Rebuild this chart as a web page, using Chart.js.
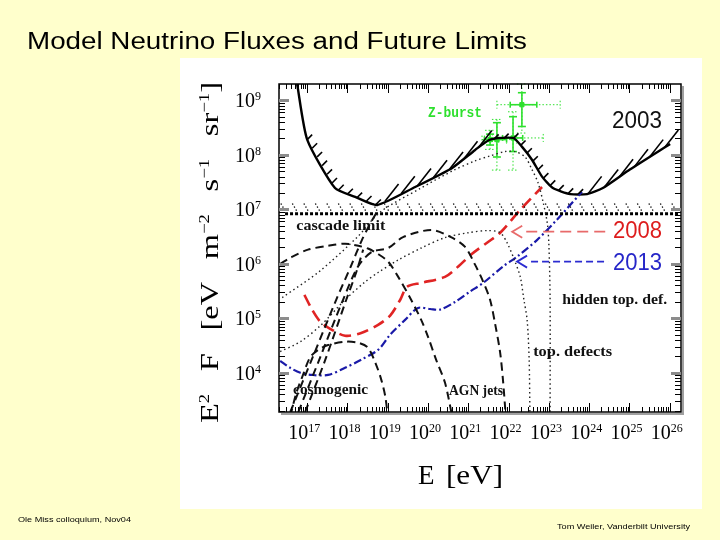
<!DOCTYPE html>
<html>
<head>
<meta charset="utf-8">
<script src="https://cdn.jsdelivr.net/npm/chart.js@4.4.0/dist/chart.umd.min.js"></script>
<style>
  html, body { margin: 0; padding: 0; background: #FFFFCC; }
  #wrap { position: relative; width: 720px; height: 540px; }
</style>
</head>
<body>
<div id="wrap"><canvas id="c" width="720" height="540"></canvas></div>
<script>
// all values are log10: x = log10(E / eV), y = log10(E^2 F / eV m^-2 s^-1 sr^-1)
const xTickPowers = [17, 18, 19, 20, 21, 22, 23, 24, 25, 26];
const yTickPowers = [4, 5, 6, 7, 8, 9];

const limit2003E = [16.75, 17.00, 17.69, 18.19, 18.74, 19.68, 20.60, 21.17, 21.54, 22.11, 22.33, 22.58, 22.83, 23.10, 23.53, 23.95, 24.34, 25.01, 26.01];
const limit2003F = [9.30, 8.28, 7.39, 7.23, 7.08, 7.41, 7.76, 8.09, 8.28, 8.31, 8.15, 7.91, 7.60, 7.39, 7.28, 7.28, 7.39, 7.73, 8.20];

const cascadeE = [16.45, 26.25];
const cascadeF = [6.92, 6.92];

const limit2008E = [16.93, 17.12, 17.32, 17.52, 17.94, 18.34, 18.76, 19.06, 19.31, 19.48, 19.83, 20.42, 20.75, 21.07, 21.49, 21.79, 22.29, 22.83];
const limit2008F = [5.43, 5.16, 4.94, 4.83, 4.68, 4.73, 4.88, 5.05, 5.34, 5.58, 5.65, 5.76, 5.95, 6.17, 6.40, 6.57, 6.99, 7.41];

const limit2013E = [16.33, 16.58, 16.83, 17.12, 17.52, 17.94, 18.34, 18.76, 19.06, 19.43, 19.75, 20.05, 20.30, 20.67, 21.04, 21.37, 21.86, 22.21, 22.71, 23.20, 23.82];
const limit2013F = [4.22, 4.09, 4.00, 3.96, 3.96, 4.09, 4.24, 4.42, 4.70, 4.97, 5.19, 5.17, 5.16, 5.30, 5.49, 5.65, 5.95, 6.13, 6.44, 6.81, 7.32];

// dashed model curves (AGN jets, cosmogenic)
const agnE = [16.33, 16.58, 17.02, 17.52, 17.94, 18.27, 18.51, 18.76, 19.01, 19.26, 19.58, 19.83, 20.00, 20.20, 20.42, 20.60];
const agnF = [6.00, 6.11, 6.26, 6.33, 6.37, 6.33, 6.28, 6.18, 6.04, 5.76, 5.34, 4.97, 4.66, 4.24, 3.82, 3.20];
const cosmoAE = [16.58, 17.15, 17.72, 18.07, 18.36, 18.59, 18.76];
const cosmoAF = [3.28, 4.31, 5.34, 5.93, 6.44, 6.77, 6.99];
const cosmoBE = [16.78, 17.32, 17.89, 18.27, 18.61, 19.01, 19.38, 20.08, 20.57, 20.92, 21.17, 21.37, 21.54, 21.67, 21.79, 21.86, 21.93];
const cosmoBF = [3.28, 4.28, 5.34, 5.96, 6.22, 6.29, 6.49, 6.62, 6.49, 6.31, 5.98, 5.67, 5.34, 4.88, 4.37, 3.87, 3.20];
const cosmoCE = [16.95, 17.45, 17.97, 18.22, 18.39];
const cosmoCF = [3.28, 4.24, 5.34, 5.85, 6.26];
const cosmoDE = [16.58, 16.73, 16.88, 17.07, 17.27, 17.52, 17.94, 18.27, 18.51, 18.71, 18.84, 18.94, 19.00];
const cosmoDF = [3.20, 3.63, 3.93, 4.28, 4.42, 4.51, 4.57, 4.55, 4.46, 4.15, 3.87, 3.56, 3.20];

// dotted model curves (topological defects, Z-burst)
const topDefE = [16.33, 16.83, 17.35, 17.94, 18.44, 18.76, 19.26, 19.83, 20.42, 21.00, 21.49, 21.79, 21.96, 22.16, 22.29, 22.38, 22.46, 22.51, 22.53];
const topDefF = [4.39, 4.57, 4.88, 5.34, 5.67, 5.84, 6.07, 6.29, 6.48, 6.57, 6.61, 6.57, 6.39, 6.04, 5.76, 5.34, 4.97, 4.24, 3.20];
const zModelE = [16.38, 17.32, 18.27, 18.81, 19.80, 20.62, 21.17, 21.54, 21.91, 22.16, 22.41, 22.58, 22.73, 22.86, 22.96, 23.00, 23.03, 23.03];
const zModelF = [5.38, 5.87, 6.51, 6.95, 7.38, 7.71, 7.89, 7.98, 8.06, 8.06, 7.96, 7.73, 7.49, 7.12, 6.75, 6.35, 5.34, 3.20];

// Z-burst points with solid and dotted error bars
const zbE = [22.33, 21.54, 21.71, 22.11];
const zbF = [8.92, 8.28, 8.28, 8.31];
const zbELo = [22.04, 21.40, 21.54, 21.85];
const zbEHi = [22.70, 21.75, 21.95, 22.35];
const zbFLo = [8.52, 8.18, 7.96, 8.06];
const zbFHi = [9.14, 8.38, 8.59, 8.70];
const zbELoWide = [21.71, 21.34, 21.40, 21.60];
const zbEHiWide = [23.28, 21.95, 22.20, 22.86];
const zbFLoWide = [8.40, 8.10, 7.72, 7.72];
const zbFHiWide = [9.30, 8.45, 8.65, 8.79];

const xy = (xs, ys) => xs.map((x, i) => ({ x, y: ys[i] }));

function curve(label, xs, ys, color, width, dash, extra) {
  return Object.assign({
    label, data: xy(xs, ys), showLine: true, fill: false,
    borderColor: color, backgroundColor: color, borderWidth: width,
    borderDash: dash, pointRadius: 0, tension: 0.3
  }, extra || {});
}

function fitText(ctx, txt, x, y, font, color, w) {
  ctx.save();
  ctx.font = font;
  ctx.fillStyle = color;
  ctx.textBaseline = 'alphabetic';
  ctx.textAlign = 'left';
  const m = ctx.measureText(txt).width;
  ctx.translate(x, y);
  ctx.scale(w ? w / m : 1, 1);
  ctx.fillText(txt, 0, 0);
  ctx.restore();
}

function powLabel(ctx, n, x, y) {
  ctx.save();
  ctx.fillStyle = '#000';
  ctx.textBaseline = 'alphabetic';
  ctx.font = '20px "Liberation Serif"';
  ctx.fillText('10', x, y);
  const w = ctx.measureText('10').width;
  ctx.font = '12px "Liberation Serif"';
  ctx.fillText(String(n), x + w, y - 7);
  ctx.restore();
}

const slidePlugin = {
  id: 'slide',
  beforeDraw(chart) {
    const ctx = chart.ctx;
    ctx.save();
    ctx.fillStyle = '#FFFFCC';
    ctx.fillRect(0, 0, 720, 540);
    ctx.fillStyle = '#FFFFFF';
    ctx.fillRect(180, 58, 522, 451);
    ctx.restore();
  },
  afterDraw(chart) {
    const ctx = chart.ctx, x = chart.scales.x, y = chart.scales.y;
    fitText(ctx, 'Model Neutrino Fluxes and Future Limits', 27, 49, '23px "Liberation Sans"', '#000', 500);
    fitText(ctx, 'Ole Miss colloquium, Nov04', 18, 522, '8px "Liberation Sans"', '#000', 113);
    fitText(ctx, 'Tom Weiler, Vanderbilt University', 557, 529, '8px "Liberation Sans"', '#000', 133);

    // tick labels
    xTickPowers.forEach(n => powLabel(ctx, n, x.getPixelForValue(n) - 19, 439));
    yTickPowers.forEach(n => powLabel(ctx, n, 235, y.getPixelForValue(n) + 7));

    // x title
    fitText(ctx, 'E', 418, 484, '27px "Liberation Serif"', '#000');
    fitText(ctx, '[eV]', 446, 484, '27px "Liberation Serif"', '#000', 57);

    // y title, rotated
    const parts = [['E'], ['2', 1], null, ['F'], null, ['[eV'], null, ['m'], ['\u22122', 1], null,
                   ['s'], ['\u22121', 1], null, ['sr'], ['\u22121', 1], [']']];
    ctx.save();
    ctx.translate(218, 423);
    ctx.rotate(-Math.PI / 2);
    ctx.fillStyle = '#000';
    const base = '26px "Liberation Serif"', sup = '15px "Liberation Serif"';
    let nat = 0, gaps = 0;
    parts.forEach(p => {
      if (!p) { gaps++; return; }
      ctx.font = p[1] ? sup : base;
      nat += ctx.measureText(p[0]).width * 1.25;
    });
    const gap = (341 - nat) / gaps;
    let pos = 0;
    parts.forEach(p => {
      if (!p) { pos += gap; return; }
      ctx.font = p[1] ? sup : base;
      ctx.save();
      ctx.translate(pos, p[1] ? -9 : 0);
      ctx.scale(1.25, 1);
      ctx.fillText(p[0], 0, 0);
      ctx.restore();
      pos += ctx.measureText(p[0]).width * 1.25;
    });
    ctx.restore();
  }
};

const hatchPlugin = {
  id: 'hatch',
  afterDatasetsDraw(chart) {
    const ctx = chart.ctx, a = chart.chartArea;
    chart.data.datasets.forEach((ds, di) => {
      const h = ds.hatch;
      if (!h) return;
      const pts = chart.getDatasetMeta(di).data;
      ctx.save();
      ctx.beginPath();
      ctx.rect(a.left, a.top, a.right - a.left, a.bottom - a.top);
      ctx.clip();
      ctx.strokeStyle = ds.borderColor;
      ctx.lineWidth = h.width;
      ctx.setLineDash(h.dash || []);
      let carry = 0;
      for (let i = 1; i < pts.length; i++) {
        if (ds.data[i - 1].x < h.from) continue;
        const p0 = pts[i - 1], p1 = pts[i];
        const dx = p1.x - p0.x, dy = p1.y - p0.y, len = Math.hypot(dx, dy);
        const st = (h.rise && dy < -0.2 * Math.abs(dx)) ? h.rise : h.fall;
        const ang = st.angle * Math.PI / 180;
        let t = carry;
        while (t < len) {
          const bx = p0.x + dx * t / len, by = p0.y + dy * t / len - (st.lift || 0);
          ctx.beginPath();
          ctx.moveTo(bx, by);
          ctx.lineTo(bx + Math.cos(ang) * st.len, by - Math.sin(ang) * st.len);
          ctx.stroke();
          t += st.gap;
        }
        carry = t - len;
      }
      ctx.restore();
    });
  }
};

const errorBarPlugin = {
  id: 'errbars',
  beforeDatasetsDraw(chart) {
    const ctx = chart.ctx, x = chart.scales.x, y = chart.scales.y;
    ctx.save();
    ctx.strokeStyle = '#2ee02e';
    const seg = (x0, y0, x1, y1) => { ctx.beginPath(); ctx.moveTo(x0, y0); ctx.lineTo(x1, y1); ctx.stroke(); };
    zbE.forEach((e, i) => {
      const X = x.getPixelForValue(e), Y = y.getPixelForValue(zbF[i]);
      // dotted outer bars
      ctx.lineWidth = 1; ctx.setLineDash([1.5, 2]);
      const xl = x.getPixelForValue(zbELoWide[i]), xr = x.getPixelForValue(zbEHiWide[i]);
      const yt = y.getPixelForValue(zbFHiWide[i]), yb = y.getPixelForValue(zbFLoWide[i]);
      seg(xl, Y, xr, Y); seg(X, yt, X, yb);
      seg(xl, Y - 4, xl, Y + 4); seg(xr, Y - 4, xr, Y + 4);
      seg(X - 5, yt, X + 5, yt); seg(X - 5, yb, X + 5, yb);
      // solid inner bars
      ctx.lineWidth = 1.6; ctx.setLineDash([]);
      const sl = x.getPixelForValue(zbELo[i]), sr = x.getPixelForValue(zbEHi[i]);
      const st = y.getPixelForValue(zbFHi[i]), sb = y.getPixelForValue(zbFLo[i]);
      seg(sl, Y, sr, Y); seg(X, st, X, sb);
      seg(sl, Y - 3, sl, Y + 3); seg(sr, Y - 3, sr, Y + 3);
      seg(X - 4, st, X + 4, st); seg(X - 4, sb, X + 4, sb);
    });
    ctx.restore();
  }
};

const framePlugin = {
  id: 'frame',
  afterDatasetsDraw(chart) {
    const ctx = chart.ctx, a = chart.chartArea, x = chart.scales.x, y = chart.scales.y;
    ctx.save();
    // annotations: arrows and labels
    const arrow = (e, f, e2, color, dash) => {
      const X = x.getPixelForValue(e), Y = y.getPixelForValue(f), X2 = x.getPixelForValue(e2);
      ctx.strokeStyle = color; ctx.lineWidth = 1.8;
      ctx.setLineDash([]);
      ctx.beginPath(); ctx.moveTo(X + 10, Y - 6); ctx.lineTo(X, Y); ctx.lineTo(X + 10, Y + 6); ctx.stroke();
      ctx.setLineDash(dash);
      ctx.beginPath(); ctx.moveTo(X + 14, Y); ctx.lineTo(X2, Y); ctx.stroke();
      ctx.setLineDash([]);
    };
    arrow(22.09, 6.59, 24.44, '#e86a6a', [11, 6]);
    arrow(22.21, 6.04, 24.47, '#2b2bd0', [7, 4]);
    const lab = (t, e, f, font, color, w) => fitText(ctx, t, x.getPixelForValue(e), y.getPixelForValue(f), font, color, w);
    lab('2003', 24.57, 8.50, '23px "Liberation Sans"', '#111', 50);
    lab('2008', 24.59, 6.48, '23px "Liberation Sans"', '#dd1c1c', 49);
    lab('2013', 24.59, 5.89, '23px "Liberation Sans"', '#2626c8', 49);
    lab('Z-burst', 20.00, 8.70, 'bold 14px "Liberation Mono"', '#2ee02e', 54);
    const lf = 'bold 15px "Liberation Serif"';
    lab('cascade limit', 16.73, 6.62, lf, '#111', 89);
    lab('hidden top. def.', 23.33, 5.27, lf, '#111', 105);
    lab('top. defects', 22.61, 4.31, lf, '#111', 79);
    lab('cosmogenic', 16.65, 3.61, lf, '#111', 75);
    lab('AGN jets', 20.52, 3.60, lf, '#111', 54);

    // frame with a soft grey shadow
    ctx.strokeStyle = '#a0a0a0'; ctx.lineWidth = 2;
    ctx.beginPath(); ctx.moveTo(a.right + 2, a.top + 2); ctx.lineTo(a.right + 2, a.bottom + 2); ctx.lineTo(a.left + 2, a.bottom + 2); ctx.stroke();
    ctx.strokeStyle = '#000'; ctx.lineWidth = 1.5;
    ctx.strokeRect(a.left, a.top, a.right - a.left, a.bottom - a.top);

    const seg = (x0, y0, x1, y1) => { ctx.beginPath(); ctx.moveTo(x0, y0); ctx.lineTo(x1, y1); ctx.stroke(); };
    for (let n = 16; n <= 26; n++) {
      for (let k = 1; k <= 9; k++) {
        const v = n + Math.log10(k);
        if (v <= x.min || v >= x.max) continue;
        const X = Math.round(x.getPixelForValue(v)) + 0.5;
        const L = k === 1 ? 9 : 5;
        ctx.strokeStyle = '#000'; ctx.lineWidth = 1;
        seg(X, a.bottom, X, a.bottom - L);
        seg(X, a.top, X, a.top + L);
      }
    }
    for (let n = 3; n <= 9; n++) {
      for (let k = 1; k <= 9; k++) {
        const v = n + Math.log10(k);
        if (v <= y.min || v >= y.max) continue;
        const Y = Math.round(y.getPixelForValue(v)) + 0.5;
        if (k === 1) {
          ctx.strokeStyle = '#8c8c8c'; ctx.lineWidth = 3;
          seg(a.left, Y, a.left + 10, Y);
          seg(a.right, Y, a.right - 10, Y);
        } else {
          ctx.strokeStyle = '#000'; ctx.lineWidth = 1;
          seg(a.left, Y, a.left + 6, Y);
          seg(a.right, Y, a.right - 6, Y);
        }
      }
    }
    ctx.restore();
  }
};

const datasets = [
  curve('AGN jets', agnE, agnF, '#111', 2, [8, 5]),
  curve('cosmogenic a', cosmoAE, cosmoAF, '#111', 2, [8, 5]),
  curve('cosmogenic b', cosmoBE, cosmoBF, '#111', 2, [8, 5]),
  curve('cosmogenic c', cosmoCE, cosmoCF, '#111', 2, [8, 5]),
  curve('cosmogenic d', cosmoDE, cosmoDF, '#111', 2, [8, 5]),
  curve('top. defects', topDefE, topDefF, '#222', 1.4, [1.5, 3]),
  curve('Z-burst model', zModelE, zModelF, '#222', 1.4, [1.5, 3]),
  curve('cascade limit', cascadeE, cascadeF, '#000', 3, [3, 2], {
    tension: 0,
    hatch: { from: -Infinity, width: 1.3, dash: [1.3, 2.2], fall: { angle: 120, len: 9, gap: 11.5, lift: 3 } }
  }),
  curve('2013', limit2013E, limit2013F, '#1a1aa8', 2.2, [8, 3, 2, 3]),
  curve('2008', limit2008E, limit2008F, '#e02424', 2.6, [12, 6]),
  curve('2003', limit2003E, limit2003F, '#000', 2.4, [], {
    tension: 0.2,
    hatch: { from: 16.9, width: 1.6, fall: { angle: 45, len: 7, gap: 10 }, rise: { angle: 52, len: 22, gap: 18 } }
  }),
  {
    label: 'Z-burst data', data: xy(zbE, zbF), showLine: false,
    pointStyle: 'rect', pointRadius: 3, backgroundColor: '#2ee02e', borderColor: '#2ee02e'
  }
];

new Chart(document.getElementById('c'), {
  type: 'scatter',
  data: { datasets },
  options: {
    responsive: false,
    animation: false,
    devicePixelRatio: 1,
    layout: { padding: { left: 279, top: 84, right: 39, bottom: 128 } },
    plugins: { legend: { display: false }, tooltip: { enabled: false } },
    scales: {
      x: { type: 'linear', min: 16.3, max: 26.28, display: false },
      y: { type: 'linear', min: 3.28, max: 9.3, display: false }
    }
  },
  plugins: [slidePlugin, errorBarPlugin, hatchPlugin, framePlugin]
});
</script>
</body>
</html>
